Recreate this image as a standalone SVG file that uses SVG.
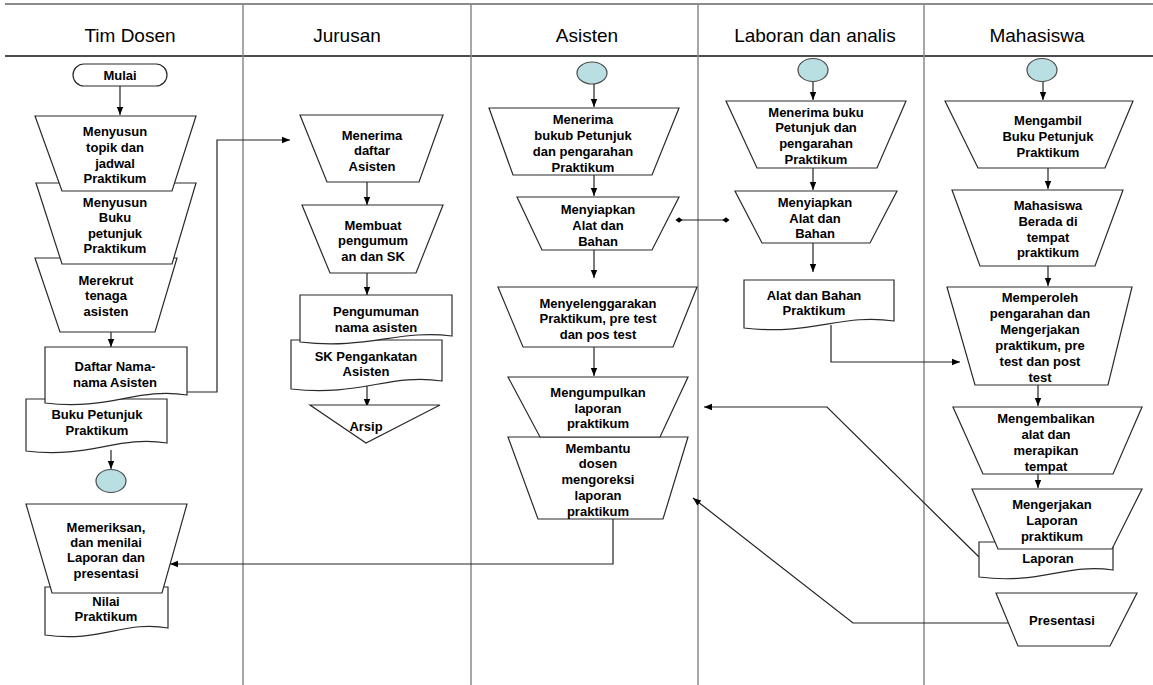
<svg xmlns="http://www.w3.org/2000/svg" width="1153" height="685" viewBox="0 0 1153 685">
<defs>
<style>
.lane{stroke:#8a8a8a;stroke-width:1.5;fill:none}
.hd{font-family:"Liberation Sans",Arial,sans-serif;font-size:19px;text-anchor:middle;fill:#000}
.n{fill:#fff;stroke:#2a2a2a;stroke-width:1.2}
.c{fill:#b9dfe3;stroke:#4a4a4a;stroke-width:1.2}
.t{font-family:"Liberation Sans",Arial,sans-serif;font-weight:bold;font-size:13px;text-anchor:middle;fill:#000}
.e{fill:none;stroke:#222;stroke-width:1.2}
.ea{fill:none;stroke:#222;stroke-width:1.2;marker-end:url(#ah)}
</style>
<marker id="ah" viewBox="0 0 10 10" refX="10" refY="5" markerWidth="9" markerHeight="8" orient="auto" markerUnits="userSpaceOnUse"><path d="M0,1 L10,5 L0,9 z" fill="#000"/></marker>
<marker id="dm" viewBox="0 0 10 10" refX="5" refY="5" markerWidth="9" markerHeight="7" orient="auto" markerUnits="userSpaceOnUse"><path d="M0,5 L5,1 L10,5 L5,9 z" fill="#000"/></marker>
</defs>
<rect width="1153" height="685" fill="#fff"/>
<g id="lanes">
<line x1="5" y1="4" x2="1153" y2="4" stroke="#666" stroke-width="1.6"/>
<line x1="5" y1="56" x2="1153" y2="56" stroke="#111" stroke-width="1.5"/>
<line class="lane" x1="243" y1="4" x2="243" y2="685"/>
<line class="lane" x1="471" y1="4" x2="471" y2="685"/>
<line class="lane" x1="698" y1="4" x2="698" y2="685"/>
<line class="lane" x1="924" y1="4" x2="924" y2="685"/>
<text class="hd" x="130" y="42">Tim Dosen</text>
<text class="hd" x="347" y="42">Jurusan</text>
<text class="hd" x="587" y="42">Asisten</text>
<text class="hd" x="815" y="42">Laboran dan analis</text>
<text class="hd" x="1037" y="42">Mahasiswa</text>
</g>
<g id="connectors">
<line class="ea" x1="120" y1="86" x2="120" y2="115"/>
<line class="ea" x1="111" y1="332" x2="111" y2="347"/>
<polyline class="ea" points="187,392 217,392 217,140 290,140"/>
<line class="ea" x1="111" y1="450" x2="111" y2="469"/>
<polyline class="ea" points="613,519 613,564 170,564"/>
<line class="ea" x1="367" y1="182" x2="367" y2="205"/>
<line class="ea" x1="367" y1="273" x2="367" y2="295"/>
<line class="ea" x1="367" y1="386" x2="367" y2="407"/>
<line class="ea" x1="594" y1="84" x2="594" y2="107"/>
<line class="ea" x1="594" y1="175" x2="594" y2="196"/>
<line class="e" x1="679" y1="220" x2="726" y2="220" style="marker-start:url(#dm);marker-end:url(#dm)"/>
<line class="ea" x1="594" y1="250" x2="594" y2="278"/>
<line class="ea" x1="594" y1="347" x2="594" y2="376"/>
<line class="ea" x1="813" y1="81" x2="813" y2="100"/>
<line class="ea" x1="813" y1="168" x2="813" y2="190"/>
<line class="ea" x1="813" y1="243" x2="813" y2="272"/>
<polyline class="ea" points="831,325 831,362 960,362"/>
<line class="ea" x1="1043" y1="81" x2="1043" y2="100"/>
<line class="ea" x1="1048" y1="168" x2="1048" y2="189"/>
<line class="ea" x1="1048" y1="266" x2="1048" y2="286"/>
<line class="ea" x1="1038" y1="385" x2="1038" y2="406"/>
<line class="ea" x1="1038" y1="474" x2="1038" y2="488"/>
<polyline class="ea" points="979,557 827,407 704,407"/>
<polyline class="ea" points="1008,623 853,623 693,498"/>
</g>
<g id="n-mulai">
<rect class="n" x="73" y="64" width="94" height="22" rx="11"/>
<text class="t" x="120" y="80">Mulai</text>
</g>
<g id="n-merekrut">
<polygon class="n" points="35,258 177,258 155,332 60,332"/>
<text class="t" x="106" y="285">Merekrut</text>
<text class="t" x="106" y="300">tenaga</text>
<text class="t" x="106" y="316">asisten</text>
</g>
<g id="n-menyusun-buku">
<polygon class="n" points="36,183 196,183 172,264 62,264"/>
<text class="t" x="115" y="207">Menyusun</text>
<text class="t" x="115" y="222">Buku</text>
<text class="t" x="115" y="238">petunjuk</text>
<text class="t" x="115" y="253">Praktikum</text>
</g>
<g id="n-menyusun-topik">
<polygon class="n" points="35,116 196,116 172,191 62,191"/>
<text class="t" x="115" y="136">Menyusun</text>
<text class="t" x="115" y="152">topik dan</text>
<text class="t" x="115" y="168">jadwal</text>
<text class="t" x="115" y="183">Praktikum</text>
</g>
<g id="n-buku-petunjuk">
<path class="n" d="M26,399 H167 V443 C118,435 89,459 26,451 Z"/>
<text class="t" x="97" y="419">Buku Petunjuk</text>
<text class="t" x="97" y="435">Praktikum</text>
</g>
<g id="n-daftar-nama">
<path class="n" d="M45,347 H187 V395 C137,387 109,411 45,403 Z"/>
<text class="t" x="115" y="371">Daftar Nama-</text>
<text class="t" x="115" y="387">nama Asisten</text>
</g>
<g id="n-c1">
<ellipse class="c" cx="111" cy="481" rx="15" ry="11.5"/>
</g>
<g id="n-nilai">
<path class="n" d="M45,587 H168 V628 C125,620 100,643 45,635 Z"/>
<text class="t" x="106" y="606">Nilai</text>
<text class="t" x="106" y="621">Praktikum</text>
</g>
<g id="n-memeriksan">
<polygon class="n" points="26,504 187,504 162,593 52,593"/>
<text class="t" x="106" y="532">Memeriksan,</text>
<text class="t" x="106" y="547">dan menilai</text>
<text class="t" x="106" y="562">Laporan dan</text>
<text class="t" x="106" y="578">presentasi</text>
</g>
<g id="n-menerima-daftar">
<polygon class="n" points="300,115 443,115 419,182 327,182"/>
<text class="t" x="372" y="140">Menerima</text>
<text class="t" x="372" y="155">daftar</text>
<text class="t" x="372" y="171">Asisten</text>
</g>
<g id="n-membuat">
<polygon class="n" points="302,205 443,205 416,273 330,273"/>
<text class="t" x="373" y="230">Membuat</text>
<text class="t" x="373" y="245">pengumum</text>
<text class="t" x="373" y="261">an dan SK</text>
</g>
<g id="n-sk">
<path class="n" d="M291,340 H442 V381 C390,373 360,397 291,389 Z"/>
<text class="t" x="366" y="361">SK Pengankatan</text>
<text class="t" x="366" y="376">Asisten</text>
</g>
<g id="n-pengumuman">
<path class="n" d="M300,295 H452 V336 C399,329 368,350 300,342 Z"/>
<text class="t" x="376" y="316">Pengumuman</text>
<text class="t" x="376" y="332">nama asisten</text>
</g>
<g id="n-arsip">
<polygon class="n" points="310,405 440,405 366,443"/>
<text class="t" x="366" y="431">Arsip</text>
</g>
<g id="n-c2">
<ellipse class="c" cx="592" cy="73" rx="15" ry="11"/>
</g>
<g id="n-menerima-buku-asisten">
<polygon class="n" points="489,108 679,108 652,175 513,175"/>
<text class="t" x="583" y="124">Menerima</text>
<text class="t" x="583" y="140">bukub Petunjuk</text>
<text class="t" x="583" y="156">dan pengarahan</text>
<text class="t" x="583" y="172">Praktikum</text>
</g>
<g id="n-menyiapkan-asisten">
<polygon class="n" points="517,197 679,197 652,250 542,250"/>
<text class="t" x="598" y="214">Menyiapkan</text>
<text class="t" x="598" y="230">Alat dan</text>
<text class="t" x="598" y="246">Bahan</text>
</g>
<g id="n-menyelenggarakan">
<polygon class="n" points="498,287 697,287 673,347 523,347"/>
<text class="t" x="598" y="308">Menyelenggarakan</text>
<text class="t" x="598" y="323">Praktikum, pre test</text>
<text class="t" x="598" y="339">dan pos test</text>
</g>
<g id="n-membantu">
<polygon class="n" points="508,437 688,437 663,519 538,519"/>
<text class="t" x="598" y="453">Membantu</text>
<text class="t" x="598" y="468">dosen</text>
<text class="t" x="598" y="484">mengoreksi</text>
<text class="t" x="598" y="500">laporan</text>
<text class="t" x="598" y="516">praktikum</text>
</g>
<g id="n-mengumpulkan">
<polygon class="n" points="508,377 688,377 660,437 540,437"/>
<text class="t" x="598" y="397">Mengumpulkan</text>
<text class="t" x="598" y="413">laporan</text>
<text class="t" x="598" y="428">praktikum</text>
</g>
<g id="n-c3">
<ellipse class="c" cx="813" cy="70" rx="15" ry="11.5"/>
</g>
<g id="n-menerima-buku-laboran">
<polygon class="n" points="726,101 906,101 877,168 757,168"/>
<text class="t" x="816" y="117">Menerima buku</text>
<text class="t" x="816" y="132">Petunjuk dan</text>
<text class="t" x="816" y="148">pengarahan</text>
<text class="t" x="816" y="164">Praktikum</text>
</g>
<g id="n-menyiapkan-laboran">
<polygon class="n" points="735,191 897,191 870,243 762,243"/>
<text class="t" x="815" y="207">Menyiapkan</text>
<text class="t" x="815" y="223">Alat dan</text>
<text class="t" x="815" y="238">Bahan</text>
</g>
<g id="n-alat-bahan">
<path class="n" d="M744,280 H894 V321 C842,313 811,336 744,328 Z"/>
<text class="t" x="814" y="300">Alat dan Bahan</text>
<text class="t" x="814" y="315">Praktikum</text>
</g>
<g id="n-c4">
<ellipse class="c" cx="1042" cy="70" rx="15" ry="11.5"/>
</g>
<g id="n-mengambil">
<polygon class="n" points="945,101 1133,101 1105,168 978,168"/>
<text class="t" x="1048" y="125">Mengambil</text>
<text class="t" x="1048" y="141">Buku Petunjuk</text>
<text class="t" x="1048" y="157">Praktikum</text>
</g>
<g id="n-berada">
<polygon class="n" points="952,190 1123,190 1095,266 980,266"/>
<text class="t" x="1048" y="210">Mahasiswa</text>
<text class="t" x="1048" y="226">Berada di</text>
<text class="t" x="1048" y="242">tempat</text>
<text class="t" x="1048" y="257">praktikum</text>
</g>
<g id="n-memperoleh">
<polygon class="n" points="947,287 1132,287 1108,385 975,385"/>
<text class="t" x="1040" y="302">Memperoleh</text>
<text class="t" x="1040" y="318">pengarahan dan</text>
<text class="t" x="1040" y="334">Mengerjakan</text>
<text class="t" x="1040" y="350">praktikum, pre</text>
<text class="t" x="1040" y="366">test dan post</text>
<text class="t" x="1040" y="382">test</text>
</g>
<g id="n-mengembalikan">
<polygon class="n" points="953,407 1142,407 1113,474 983,474"/>
<text class="t" x="1046" y="423">Mengembalikan</text>
<text class="t" x="1046" y="439">alat dan</text>
<text class="t" x="1046" y="455">merapikan</text>
<text class="t" x="1046" y="471">tempat</text>
</g>
<g id="n-laporan">
<path class="n" d="M979,542 H1113 V570 C1066,563 1040,585 979,577 Z"/>
<text class="t" x="1048" y="563">Laporan</text>
</g>
<g id="n-mengerjakan-laporan">
<polygon class="n" points="972,489 1142,489 1112,549 998,549"/>
<text class="t" x="1052" y="509">Mengerjakan</text>
<text class="t" x="1052" y="525">Laporan</text>
<text class="t" x="1052" y="541">praktikum</text>
</g>
<g id="n-presentasi">
<polygon class="n" points="996,593 1137,593 1110,646 1018,646"/>
<text class="t" x="1062" y="625">Presentasi</text>
</g>
</svg>
